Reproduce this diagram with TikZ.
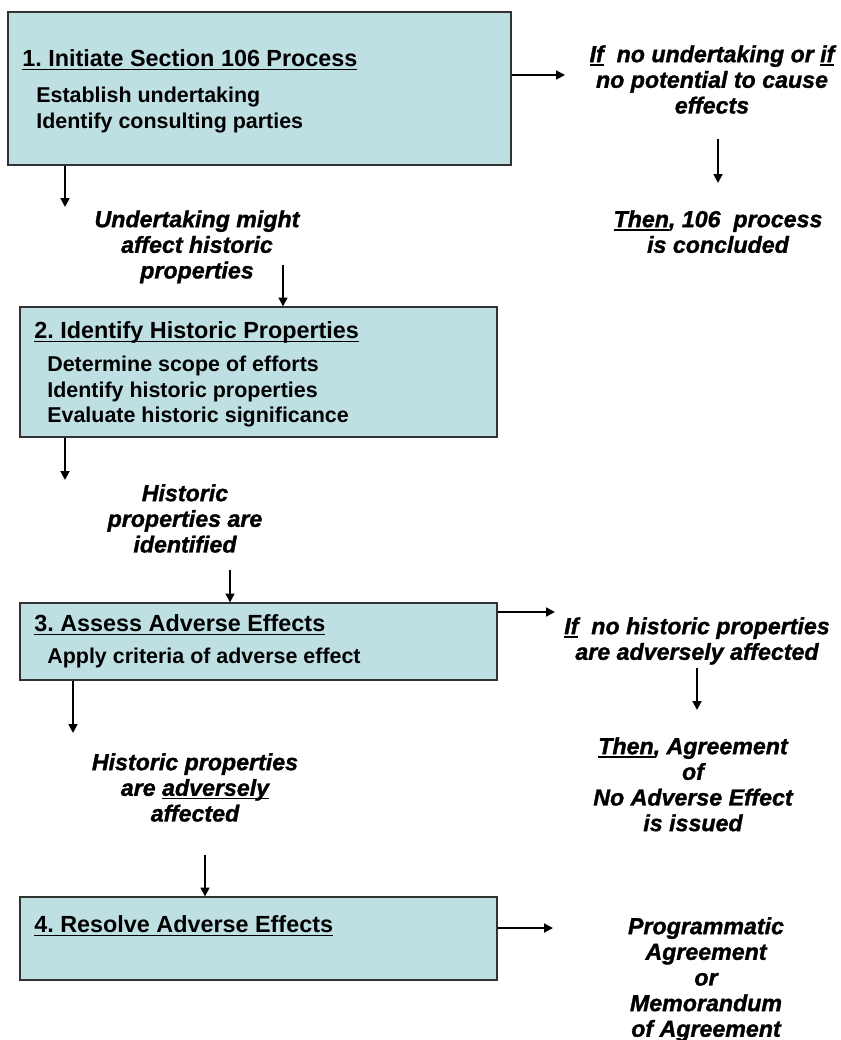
\documentclass[tikz,border=0pt]{standalone}
\usepackage{fontspec}
\setmainfont{Liberation Sans}
\newfontfamily\heavyit{Liberation Sans Bold Italic}[FakeBold=1.3]
\usetikzlibrary{arrows.meta,fit}
\frenchspacing

% underline close to the baseline
\newcommand\ulin[1]{\leavevmode\setbox0\hbox{#1}\rlap{\vrule height -1.3pt depth 2pt width \wd0}\box0}

\definecolor{boxfill}{RGB}{190,224,227}
\definecolor{boxline}{RGB}{50,50,50}

\tikzset{
  stepbox/.style={draw=boxline, line width=0.7pt, fill=boxfill, inner sep=0pt},
  steptitle/.style={anchor=north west, inner sep=0pt, font=\fontsize{13.3}{15}\selectfont\bfseries},
  stepbody/.style={anchor=north west, inner sep=0pt, align=left, font=\fontsize{12.2}{14.4}\selectfont\bfseries},
  outcome/.style={anchor=north, inner sep=0pt, align=center, font=\fontsize{13.2}{14.6}\selectfont\heavyit},
  flow/.style={line width=1.1pt, -{Triangle[length=5pt,width=5pt]}}
}

\begin{document}
\begin{tikzpicture}[x=0.02cm, y=-0.02cm]
  \useasboundingbox (0,0) rectangle (840,1040);

  % the four steps
  \node[stepbox, fit={(8,12) (511,165)}] (s1) {};
  \node[stepbox, fit={(20,307) (497,437)}] (s2) {};
  \node[stepbox, fit={(20,603) (497,680)}] (s3) {};
  \node[stepbox, fit={(20,897) (497,980)}] (s4) {};

  \node[steptitle] (s1t) at (22,49) {\ulin{1. Initiate Section 106 Process}};
  \node[stepbody] (s1b) at (36,87) {Establish undertaking\\Identify consulting parties};

  \node[steptitle] (s2t) at (34,321) {\ulin{2. Identify Historic Properties}};
  \node[stepbody] (s2b) at (47,356) {Determine scope of efforts\\Identify historic properties\\Evaluate historic significance};

  \node[steptitle] (s3t) at (34,614) {\ulin{3. Assess Adverse Effects}};
  \node[stepbody] (s3b) at (47,648) {Apply criteria of adverse effect};

  \node[steptitle] (s4t) at (34,915) {\ulin{4. Resolve Adverse Effects}};

  % outcomes
  \node[outcome] (o1) at (712,45) {\ulin{If}\ \ no undertaking or \ulin{if}\\no potential to cause\\effects};
  \node[outcome] (o1b) at (718,210) {\ulin{Then}, 106\ \ process\\is concluded};
  \node[outcome] (u1) at (197,210) {Undertaking might\\affect historic\\properties};
  \node[outcome] (u2) at (185,484) {Historic\\properties are\\identified};
  \node[outcome] (o3) at (697,617) {\ulin{If}\ \ no historic properties\\are adversely affected};
  \node[outcome] (o3b) at (693,737) {\ulin{Then}, Agreement\\of\\No Adverse Effect\\is issued};
  \node[outcome] (u3) at (195,753) {Historic properties\\are \ulin{adversely}\\affected};
  \node[outcome] (o4) at (706,917) {Programmatic\\Agreement\\or\\Memorandum\\of Agreement};

  % arrow ends
  \coordinate (r1) at (565,75);
  \coordinate (r3) at (555,612);
  \coordinate (r4) at (553,928);
  \coordinate (d1) at (65,207);
  \coordinate (d2) at (65,480);
  \coordinate (d3) at (73,733);
  \coordinate (e2) at (283,265);
  \coordinate (e3) at (230,570);
  \coordinate (e4) at (205,855);
  \coordinate (t1a) at (718,139);
  \coordinate (t1b) at (718,183);
  \coordinate (t3a) at (697,668);
  \coordinate (t3b) at (697,710);

  \draw[flow] (s1.east |- r1) -- (r1);
  \draw[flow] (s3.east |- r3) -- (r3);
  \draw[flow] (s4.east |- r4) -- (r4);
  \draw[flow] (s1.south -| d1) -- (d1);
  \draw[flow] (s2.south -| d2) -- (d2);
  \draw[flow] (s3.south -| d3) -- (d3);
  \draw[flow] (e2) -- (e2 |- s2.north);
  \draw[flow] (e3) -- (e3 |- s3.north);
  \draw[flow] (e4) -- (e4 |- s4.north);
  \draw[flow] (t1a) -- (t1b);
  \draw[flow] (t3a) -- (t3b);
\end{tikzpicture}
\end{document}
